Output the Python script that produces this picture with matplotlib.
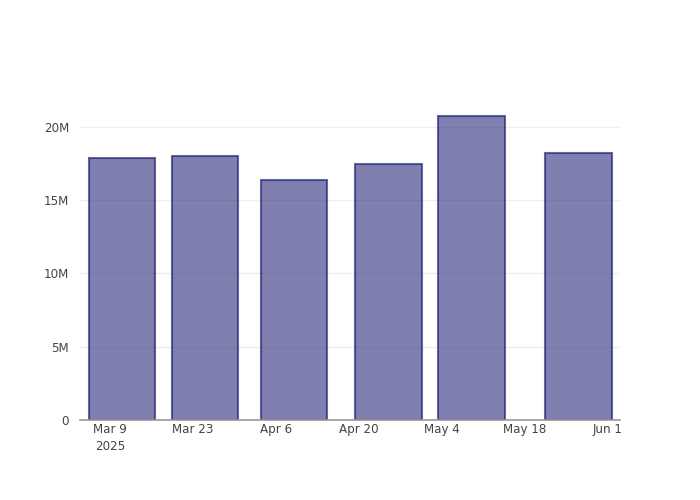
import matplotlib
matplotlib.use("Agg")
import matplotlib.pyplot as plt
import matplotlib.dates as mdates
import pandas as pd

# Data
dates = pd.to_datetime(
    ["2025-03-11", "2025-03-25", "2025-04-09", "2025-04-25", "2025-05-09", "2025-05-27"]
)
values = [17.88e6, 18.02e6, 16.38e6, 17.47e6, 20.75e6, 18.23e6]

tick_dates = pd.to_datetime(
    ["2025-03-09", "2025-03-23", "2025-04-06", "2025-04-20", "2025-05-04", "2025-05-18", "2025-06-01"]
)
tick_labels = ["Mar 9\n2025", "Mar 23", "Apr 6", "Apr 20", "May 4", "May 18", "Jun 1"]
y_ticks = [0, 5e6, 10e6, 15e6, 20e6]
y_labels = ["0", "5M", "10M", "15M", "20M"]

fill = (25 / 255, 25 / 255, 112 / 255, 0.55)
edge = (25 / 255, 25 / 255, 112 / 255, 0.65)
tick_color = "#444444"

fig = plt.figure(figsize=(7, 5), dpi=100)
ax = fig.add_axes([80 / 700, 80 / 500, 540 / 700, 320 / 500])

x = mdates.date2num(dates)
width = 0.8 * 14  # days
ax.bar(x, values, width=width, color=fill, edgecolor=edge, linewidth=1.5, zorder=3)

xt = mdates.date2num(tick_dates)
px_per_day = 83 / 14
ax.set_xlim(xt[0] - 30 / px_per_day, xt[-1] + 12 / px_per_day)
ax.set_ylim(0, 21.84e6)

ax.set_xticks(xt)
ax.set_xticklabels(tick_labels, fontsize=8.6, color=tick_color, linespacing=1.4)
ax.set_yticks(y_ticks)
ax.set_yticklabels(y_labels, fontsize=8.6, color=tick_color)
ax.tick_params(axis="x", length=0, pad=2)
ax.tick_params(axis="y", length=0, pad=8)

ax.grid(axis="y", color="#eeeeee", linewidth=1, zorder=0)
for side in ["top", "right", "left"]:
    ax.spines[side].set_visible(False)
ax.spines["bottom"].set_color("#999999")
ax.spines["bottom"].set_linewidth(1.2)
ax.spines["bottom"].set_zorder(4)

fig.savefig("out.png", dpi=100)
